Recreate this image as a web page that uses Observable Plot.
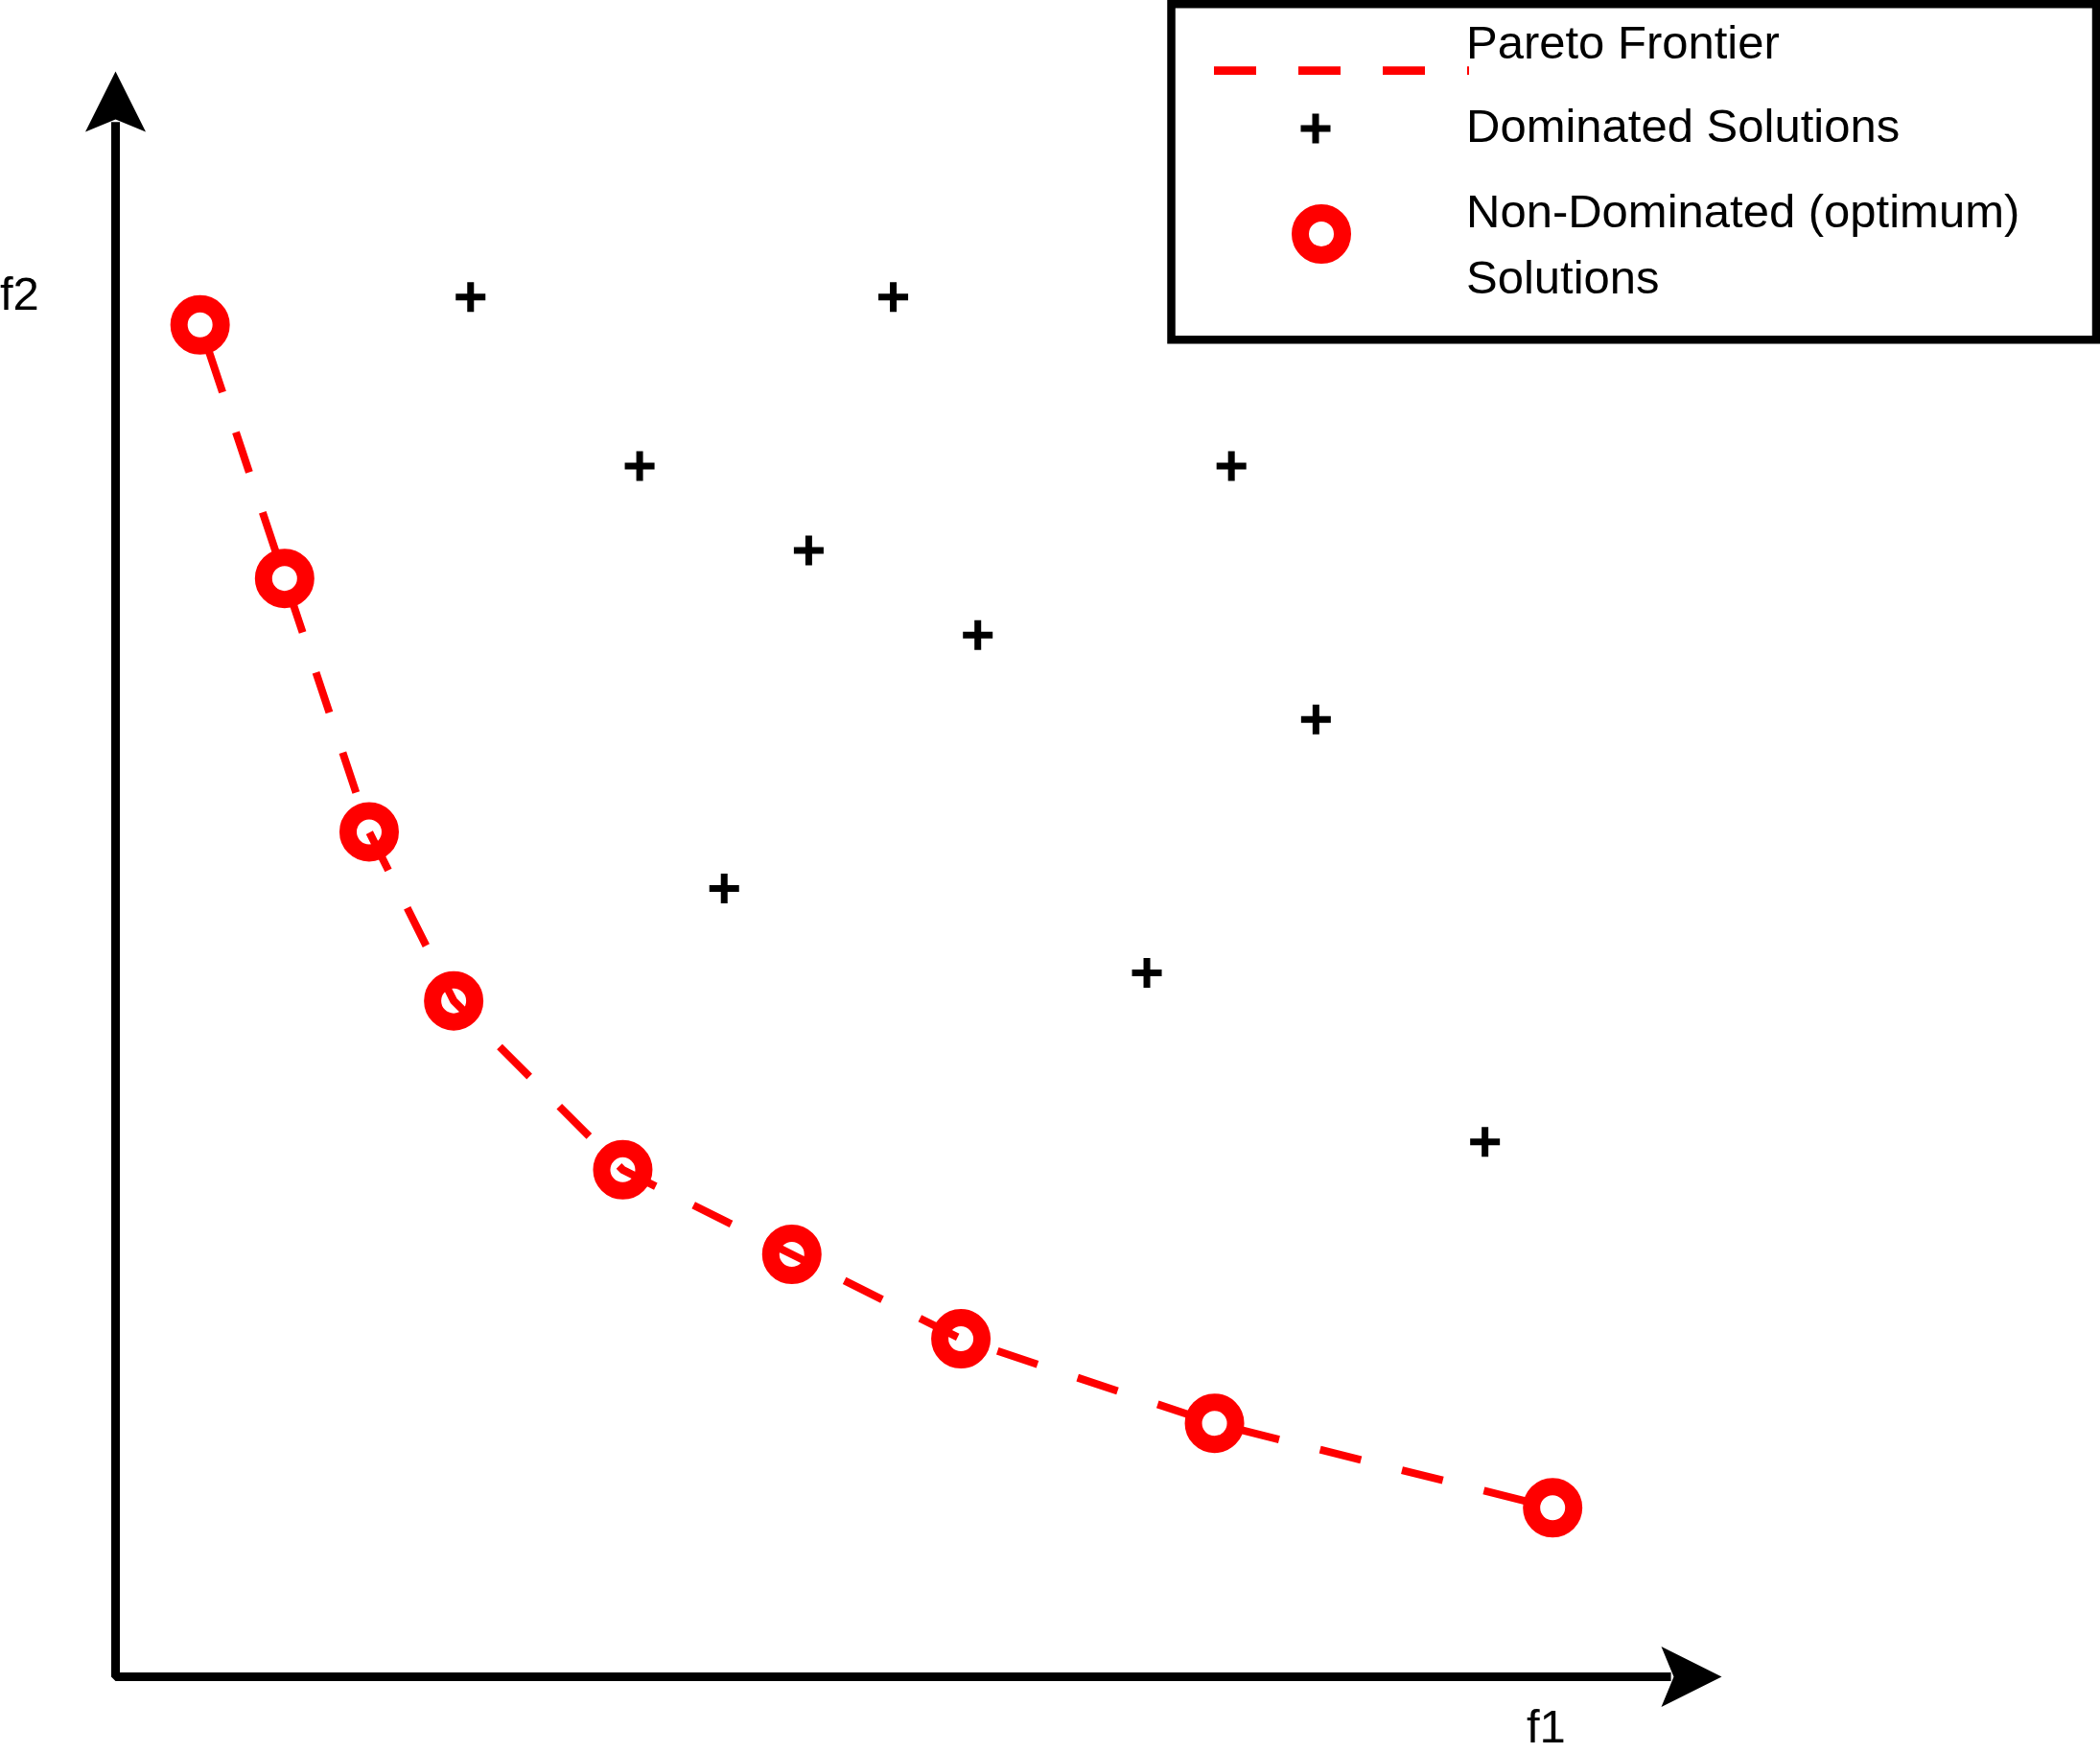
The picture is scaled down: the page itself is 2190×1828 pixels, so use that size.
<!DOCTYPE html>
<html>
<head>
<meta charset="utf-8">
<script src="https://cdn.jsdelivr.net/npm/d3@7"></script>
<script src="https://cdn.jsdelivr.net/npm/@observablehq/plot@0.6"></script>
<style>
html, body { margin: 0; padding: 0; background: #fff; overflow: hidden; }
#chart { position: relative; width: 2190px; height: 1828px; }
#chart svg { position: absolute; left: 0; top: 0; }
</style>
</head>
<body>
<div id="chart"></div>
<script>
// ---- data ----
const paretoF1 = [1, 2, 3, 4, 6, 8, 10, 13, 17];
const paretoF2 = [16, 13, 10, 8, 6, 5, 4, 3, 2];
const dominatedF1 = [4.2, 9.2, 6.2, 13.2, 8.2, 10.2, 14.2, 7.2, 12.2, 16.2];
const dominatedF2 = [16.33, 16.33, 14.33, 14.33, 13.33, 12.33, 11.33, 9.33, 8.33, 6.33];
const axisMax = [19, 19];           // f1 max, f2 max (arrow tips)
const axisLabels = ["f1", "f2"];
const legendLabels = ["Pareto Frontier", "Dominated Solutions", "Non-Dominated (optimum)", "Solutions"];

const pareto = paretoF1.map((f1, i) => ({f1, f2: paretoF2[i]}));
const dominated = dominatedF1.map((f1, i) => ({f1, f2: dominatedF2[i]}));

const RED = "#ff0000";
const FONT = "'Liberation Sans', Arial, Helvetica, sans-serif";

const plusSymbol = {
  draw(ctx) { const h = 15.5; ctx.moveTo(-h, 0); ctx.lineTo(h, 0); ctx.moveTo(0, -h); ctx.lineTo(0, h); }
};
const arrowSymbol = {
  draw(ctx) { ctx.moveTo(0, 0); ctx.lineTo(-31.5, 63); ctx.lineTo(0, 50); ctx.lineTo(31.5, 63); ctx.closePath(); }
};

const shaftBack = 0.6;
const axisPath = [[0, axisMax[1] - shaftBack], [0, 0], [axisMax[0] - shaftBack, 0]];
const arrowTips = [
  {x: 0, y: axisMax[1], rotate: 0},
  {x: axisMax[0], y: 0, rotate: 90}
];

const chart = Plot.plot({
  width: 2190,
  height: 1828,
  marginLeft: 120,
  marginRight: 395,
  marginTop: 74,
  marginBottom: 80,
  style: {background: "#fff", overflow: "visible"},
  x: {domain: [0, axisMax[0]], axis: null},
  y: {domain: [0, axisMax[1]], axis: null},
  marks: [
    Plot.line(axisPath, {stroke: "#000", strokeWidth: 9, strokeLinejoin: "miter", strokeLinecap: "butt"}),
    Plot.dot(arrowTips, {x: "x", y: "y", rotate: "rotate", symbol: arrowSymbol, fill: "#000", stroke: "none"}),
    Plot.dot(dominated, {x: "f1", y: "f2", symbol: plusSymbol, stroke: "#000", strokeWidth: 7, fill: "none"}),
    Plot.dot(pareto, {x: "f1", y: "f2", r: 22, stroke: RED, strokeWidth: 18, fill: "none"}),
    Plot.line(pareto, {x: "f1", y: "f2", stroke: RED, strokeWidth: 8, strokeDasharray: "44,44", strokeDashoffset: 58, strokeLinecap: "butt"})
  ]
});
document.getElementById("chart").appendChild(chart);

// ---- overlay: axis labels and legend ----
const ov = d3.select("#chart").append("svg")
  .attr("width", 2190).attr("height", 1828)
  .style("font-family", FONT)
  .style("pointer-events", "none");

ov.append("text").attr("x", 0).attr("y", 323).attr("font-size", 49).attr("fill", "#000").text(axisLabels[1]);
ov.append("text").attr("x", 1592).attr("y", 1817).attr("font-size", 49).attr("fill", "#000").text(axisLabels[0]);

const lg = ov.append("g");
lg.append("rect").attr("x", 1221.5).attr("y", 4.25).attr("width", 964.5).attr("height", 350)
  .attr("fill", "#fff").attr("stroke", "#000").attr("stroke-width", 8.5);
lg.append("line").attr("x1", 1266).attr("x2", 1532).attr("y1", 73.7).attr("y2", 73.7)
  .attr("stroke", RED).attr("stroke-width", 8.7).attr("stroke-dasharray", "44,44");
lg.append("path").attr("d", "M1356.5,134H1387.5M1372,118.5V149.5")
  .attr("stroke", "#000").attr("stroke-width", 7).attr("fill", "none");
lg.append("circle").attr("cx", 1378).attr("cy", 244).attr("r", 22)
  .attr("stroke", RED).attr("stroke-width", 18).attr("fill", "none");
const baselines = [61, 148, 237, 306];
legendLabels.forEach((t, i) => {
  lg.append("text").attr("x", 1529).attr("y", baselines[i]).attr("font-size", 49).attr("fill", "#000").text(t);
});
</script>
</body>
</html>
